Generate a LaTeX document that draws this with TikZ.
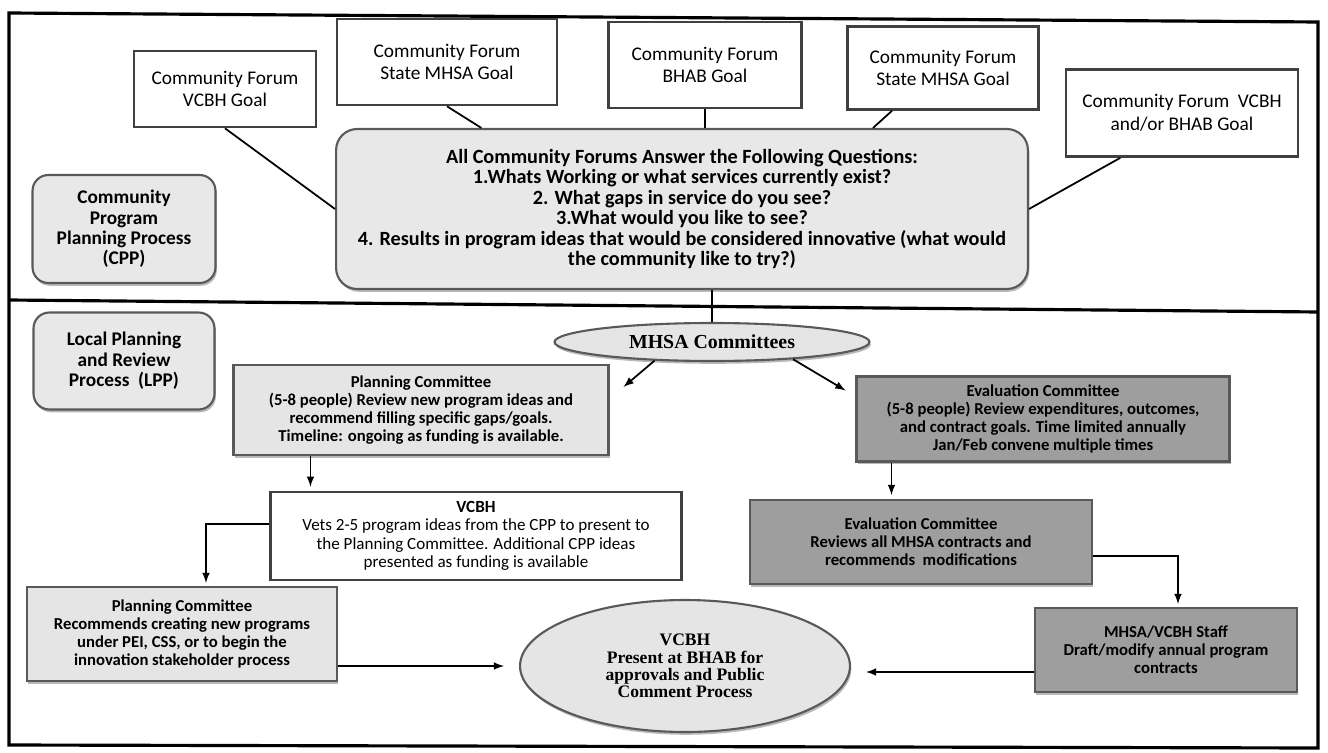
\documentclass[tikz,border=0pt]{standalone}
\usepackage{fontspec}
\setmainfont{Carlito}
\newfontfamily\timesbf{Liberation Serif}
\usetikzlibrary{shadows,shapes.geometric}

\begin{document}
\begin{tikzpicture}[x=0.02cm, y=-0.02cm, thin,
    forum/.style = {draw=black!75, line width=1.5pt, fill=white, align=center, inner sep=2pt, font=\fontsize{11}{13}\selectfont},
    proc/.style = {draw=black!65, line width=1.2pt, rounded corners=9pt, fill=black!9, align=center, font=\fontsize{11}{11.6}\selectfont\bfseries, drop shadow={opacity=0.55, shadow xshift=0.8pt, shadow yshift=-1.6pt}},
    plan/.style = {draw=black!65, line width=1.2pt, fill=black!10, align=center, inner sep=2pt, font=\fontsize{9.5}{10.2}\selectfont\bfseries, drop shadow={opacity=0.55, shadow xshift=0.8pt, shadow yshift=-1.6pt}},
    eval/.style = {plan, fill=black!38},
    oval/.style = {ellipse, draw=black!65, line width=1.2pt, fill=black!10, align=center, inner sep=0pt, font=\timesbf\bfseries\fontsize{10}{9.8}\selectfont, drop shadow={opacity=0.55, shadow xshift=0.8pt, shadow yshift=-1.6pt}},
    link/.style = {line width=1pt},
    flow/.style = {line width=1pt, -latex}]
    \useasboundingbox (0,0) rectangle (1328,753);
    \draw[line width=1.8pt] (9,13) -- (1318,22) -- (1318,748) -- (9,745) -- cycle;
    \draw[line width=1.8pt] (9,300) -- (1318,312);

    \node[forum, minimum width=3.64cm, minimum height=1.52cm] (cf1) at (225,89) {Community Forum\\VCBH Goal};
    \node[forum, minimum width=4.4cm, minimum height=1.72cm] (cf2) at (447,62) {Community Forum\\State MHSA Goal};
    \node[forum, minimum width=3.86cm, minimum height=1.72cm] (cf3) at (705,65) {Community Forum\\BHAB Goal};
    \node[forum, minimum width=3.82cm, minimum height=1.66cm] (cf4) at (943,68) {Community Forum\\State MHSA Goal};
    \node[forum, minimum width=4.64cm, minimum height=1.74cm] (cf5) at (1182,113) {Community Forum\ \ VCBH\\and/or BHAB Goal};
    \node[proc, rounded corners=12pt, font=\fontsize{11.5}{11.6}\selectfont\bfseries, minimum width=13.84cm, minimum height=3.2cm] (allq) at (682,209) {All Community Forums Answer the Following Questions:\\1.Whats Working or what services currently exist?\\2. What gaps in service do you see?\\3.What would you like to see?\\4. Results in program ideas that would be considered innovative (what would\\the community like to try?)};
    \node[proc, minimum width=3.66cm, minimum height=2.16cm] (cpp) at (124,229) {Community\\Program\\Planning Process\\(CPP)};
    \node[proc, minimum width=3.62cm, minimum height=1.94cm] (lpp) at (124,361) {Local Planning\\and Review\\Process\ \ (LPP)};
    \node[oval, font=\timesbf\bfseries\fontsize{11.3}{11.3}\selectfont, minimum width=6.3cm, minimum height=0.76cm] (mhsa) at (712,342) {MHSA Committees};
    \node[plan, minimum width=7.5cm, minimum height=1.8cm] (pc1) at (421,410) {Planning Committee\\(5-8 people) Review new program ideas and\\recommend filling specific gaps/goals.\\Timeline: ongoing as funding is available.};
    \node[eval, minimum width=7.46cm, minimum height=1.7cm] (ev1) at (1043,419) {Evaluation Committee\\(5-8 people) Review expenditures, outcomes,\\and contract goals. Time limited annually\\Jan/Feb convene multiple times};
    \node[forum, font=\fontsize{9.7}{10.4}\selectfont, minimum width=8.22cm, minimum height=1.76cm] (vcbh) at (476,536) {\textbf{VCBH}\\Vets 2-5 program ideas from the CPP to present to\\the Planning Committee. Additional CPP ideas\\presented as funding is available};
    \node[eval, minimum width=6.84cm, minimum height=1.68cm] (ev2) at (921,542) {Evaluation Committee\\Reviews all MHSA contracts and\\recommends\ \ modifications};
    \node[plan, minimum width=6.2cm, minimum height=1.88cm] (pc2) at (182,634) {Planning Committee\\Recommends creating new programs\\under PEI, CSS, or to begin the\\innovation stakeholder process};
    \node[eval, minimum width=5.24cm, minimum height=1.68cm] (staff) at (1166,650) {MHSA/VCBH Staff\\Draft/modify annual program\\contracts};
    \node[oval, minimum width=6.6cm, minimum height=2.64cm] (vcbhe) at (685,666) {VCBH\\Present at BHAB for\\approvals and Public\\Comment Process};

    \draw[link] (cf1.south) -- (allq.west);
    \draw[link] (cf2.south) -- (allq.158.9);
    \draw[link] (cf3.south) -- (cf3.south |- allq.north);
    \draw[link] (cf4.220.6) -- (allq.23.5);
    \draw[link] (cf5.216) -- (allq.east);
    \draw[link] (mhsa.north) -- (mhsa.north |- allq.south);
    \draw[flow] (mhsa.198) -- ([xshift=0.28cm,yshift=-0.46cm]pc1.north east);
    \draw[flow] (mhsa.-12) -- ([xshift=-0.2cm,yshift=-0.3cm]ev1.north west);
    \draw[flow] ([xshift=1.56cm]pc1.south west) -- ([xshift=1.56cm,yshift=0.08cm]pc1.south west |- vcbh.north);
    \draw[flow] ([yshift=0.24cm]vcbh.west) -| ([xshift=0.48cm,yshift=0.06cm]pc2.north);
    \draw[flow, shorten >=0.3cm] (pc2.east |- vcbhe.west) -- (vcbhe.west);
    \draw[flow] ([xshift=0.72cm]ev1.south west) -- ([xshift=0.72cm,yshift=0.08cm]ev1.south west |- ev2.north);
    \draw[flow] ([yshift=-0.28cm]ev2.east) -| ([xshift=0.24cm,yshift=0.06cm]staff.north);
    \draw[flow, shorten >=0.3cm] ([yshift=-0.44cm]staff.west) -- ([yshift=-0.44cm]staff.west -| vcbhe.east);
\end{tikzpicture}
\end{document}
